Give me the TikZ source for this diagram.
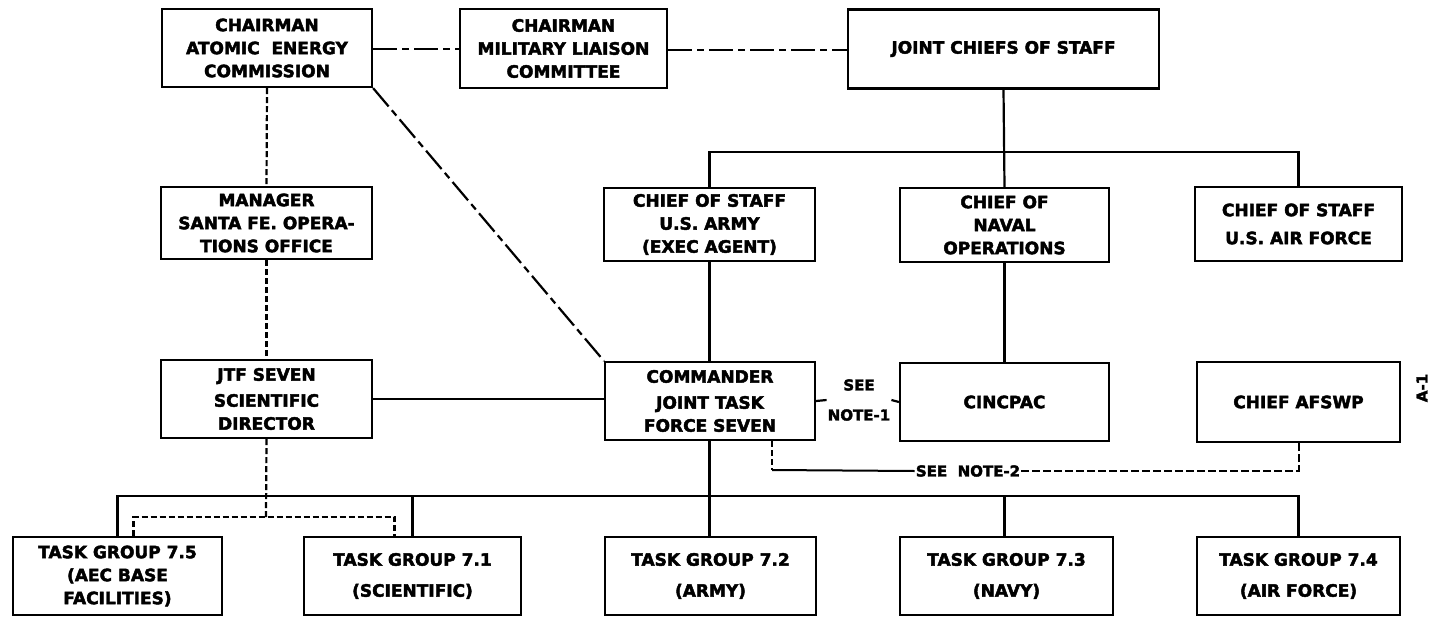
\documentclass[tikz,border=0pt]{standalone}
\usepackage{fontspec}
\setmainfont{DejaVu Sans}[BoldFeatures={FakeBold=2.5}]
\begin{document}
\begin{tikzpicture}[x=1pt,y=-1pt,
  box/.style={draw, line width=2.2pt, inner sep=0pt, align=center,
    font=\bfseries\fontsize{17}{23}\selectfont},
  conn/.style={line width=2.2pt},
  dashdot/.style={line width=2.2pt, dash pattern=on 24pt off 5pt on 7pt off 5pt},
  shortdash/.style={line width=2.2pt, dash pattern=on 6pt off 3pt},
  notedash/.style={line width=2pt, dash pattern=on 8pt off 3pt},
  notetext/.style={inner sep=1pt, align=center, font=\bfseries\fontsize{15}{30}\selectfont}
]
\useasboundingbox (0,0) rectangle (1429,616);
\fill[white] (0,0) rectangle (1429,616);

% top row
\node[box, minimum width=210pt, minimum height=78pt] (aec) at (267,48) {CHAIRMAN\\ATOMIC\ \ ENERGY\\COMMISSION};
\node[box, minimum width=207pt, minimum height=79pt] (mlc) at (563.5,48.5) {CHAIRMAN\\MILITARY LIAISON\\COMMITTEE};
\node[box, minimum width=311pt, minimum height=79pt] (jcs) at (1003.5,49) {JOINT CHIEFS OF STAFF};

% second row
\node[box, minimum width=211pt, minimum height=72pt] (mgr) at (266.5,223) {MANAGER\\SANTA FE. OPERA-\\TIONS OFFICE};
\node[box, minimum width=211pt, minimum height=73pt] (csa) at (709.5,224.5) {CHIEF OF STAFF\\U.S. ARMY\\(EXEC AGENT)};
\node[box, minimum width=209pt, minimum height=74pt] (cno) at (1004.5,225) {CHIEF OF\\NAVAL\\OPERATIONS};
\node[box, minimum width=207pt, minimum height=74pt] (csaf) at (1298.5,224) {CHIEF OF STAFF\\[5pt]U.S. AIR FORCE};

% third row
\node[box, minimum width=211pt, minimum height=78pt] (jtf) at (266.5,399) {JTF SEVEN\\[3pt]SCIENTIFIC\\DIRECTOR};
\node[box, minimum width=210pt, minimum height=78pt] (cmd) at (710,401) {COMMANDER\\[3pt]JOINT TASK\\FORCE SEVEN};
\node[box, minimum width=209pt, minimum height=78pt] (cinc) at (1004.5,402) {CINCPAC};
\node[box, minimum width=203pt, minimum height=80pt] (afswp) at (1298.5,402) {CHIEF AFSWP};

% bottom row
\node[box, minimum width=209pt, minimum height=78pt] (tg75) at (117.5,576) {TASK GROUP 7.5\\(AEC BASE\\FACILITIES)};
\node[box, minimum width=217pt, minimum height=78pt] (tg71) at (412.5,576) {TASK GROUP 7.1\\[8pt](SCIENTIFIC)};
\node[box, minimum width=211pt, minimum height=78pt] (tg72) at (710.5,576) {TASK GROUP 7.2\\[8pt](ARMY)};
\node[box, minimum width=213pt, minimum height=78pt] (tg73) at (1006.5,576) {TASK GROUP 7.3\\[8pt](NAVY)};
\node[box, minimum width=203pt, minimum height=78pt] (tg74) at (1298.5,576) {TASK GROUP 7.4\\[8pt](AIR FORCE)};

% notes
\node[notetext] (note1) at (859,400) {SEE\\NOTE-1};
\node[notetext] (note2) at (968,471) {SEE\ \ NOTE-2};
\node[font=\bfseries\fontsize{15}{18}\selectfont, rotate=90, inner sep=0pt] (a1) at (1422,388) {A-1};

% coordinates
\coordinate (ub) at (0,152);
\coordinate (lb) at (0,496);
\coordinate (dj) at (266,517);
\coordinate (n2a) at (772,470);

% dash-dot links
\draw[dashdot] (aec.east |- 0,49) -- (mlc.west |- 0,49);
\draw[dashdot] (mlc.east |- 0,50) -- (jcs.west |- 0,50);
\draw[dashdot] (aec.south east) -- (cmd.north west);

% short dashed links
\draw[shortdash] (aec.south) -- (mgr.north);
\draw[shortdash] (mgr.south) -- (jtf.north);
\draw[shortdash] (jtf.south) -- (dj);
\draw[shortdash] ([xshift=16pt]tg75.north) |- (dj) -| ([xshift=-18pt]tg71.north);

% solid upper bus
\draw[conn] (jcs.south) -- (cno.north);
\draw[conn] (csa.north) |- (ub -| csaf.north) -- (csaf.north);
\draw[conn] (csa.south) -- (cmd.north -| csa.south);
\draw[conn] (cno.south) -- (cinc.north);

% middle links
\draw[conn] (jtf.east) -- (cmd.west |- jtf.east);
\draw[conn] (cmd.east) -- (note1.west);
\draw[conn] (note1.east) -- (cinc.west);

% lower bus
\draw[conn] (cmd.south -| csa.south) -- (tg72.north -| csa.south);
\draw[conn] (tg75.north) |- (lb -| tg74.north) -- (tg74.north);
\draw[conn] (tg71.north) -- (lb -| tg71.north);
\draw[conn] (tg73.north -| cno.south) -- (lb -| cno.south);

% note 2 link
\draw[shortdash] ([xshift=62pt]cmd.south) -- (n2a);
\draw[conn, line width=2pt] (n2a) -- (note2.west);
\draw[notedash] (note2.east) -| (afswp.south);
\end{tikzpicture}
\end{document}
